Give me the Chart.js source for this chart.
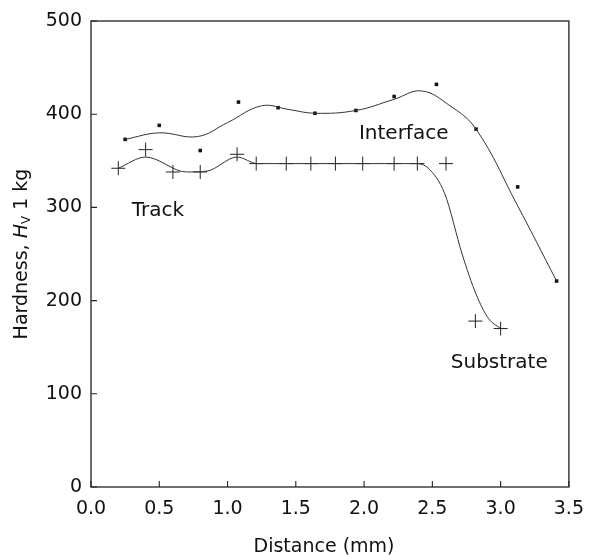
<!DOCTYPE html>
<html>
<head>
<meta charset="utf-8">
<script src="https://cdn.jsdelivr.net/npm/chart.js@4.4.1/dist/chart.umd.min.js"></script>
<style>
  html, body { margin: 0; padding: 0; background: #fff; }
  #wrap { width: 595px; height: 555px; }
</style>
</head>
<body>
<div id="wrap"><canvas id="c" width="595" height="555"></canvas></div>
<script>
// Measured points
const interfaceX = [0.25, 0.50, 0.80, 1.08, 1.37, 1.64, 1.94, 2.22, 2.53, 2.82, 3.125, 3.41];
const interfaceY = [373, 388, 361, 413, 407, 401, 404, 419, 432, 384, 322, 221];
const trackX = [0.20, 0.40, 0.60, 0.80, 1.07, 1.21, 1.43, 1.61, 1.79, 1.99, 2.22, 2.39, 2.60, 2.815, 3.00];
const trackY = [342, 362, 338, 338, 357, 347, 347, 347, 347, 347, 347, 347, 347, 178, 170];
// Fitted curves
const interfaceCurveX = [0.25, 0.50, 0.78, 1.00, 1.25, 1.45, 1.64, 1.94, 2.22, 2.42, 2.62, 2.82, 3.12, 3.41];
const interfaceCurveY = [373, 380, 376, 391, 409, 405, 401, 404, 416, 425, 410, 384, 303, 221];
const trackCurveX = [0.20, 0.40, 0.70, 0.85, 1.07, 1.22, 1.80, 2.38, 2.47, 2.59, 2.72, 2.82, 2.91, 3.00];
const trackCurveY = [342, 354, 338, 339, 354, 347, 347, 347, 342, 315, 249, 207, 181, 170];
// Axes
const xTicks = [0.0, 0.5, 1.0, 1.5, 2.0, 2.5, 3.0, 3.5];
const yTicks = [0, 100, 200, 300, 400, 500];

const FONT = '"DejaVu Sans", sans-serif';
const INK = '#111';
const toXY = (xs, ys) => xs.map((x, i) => ({x, y: ys[i]}));

const decor = {
  id: 'decor',
  afterDraw(chart) {
    const {ctx, chartArea: a, scales: {x, y}} = chart;
    ctx.save();
    ctx.strokeStyle = '#222';
    ctx.lineWidth = 1.3;
    ctx.strokeRect(a.left, a.top, a.right - a.left, a.bottom - a.top);
    ctx.lineWidth = 1.1;
    ctx.beginPath();
    yTicks.forEach(v => { const py = y.getPixelForValue(v); ctx.moveTo(a.left, py); ctx.lineTo(a.left + 6, py); });
    xTicks.forEach(v => { const px = x.getPixelForValue(v); ctx.moveTo(px, a.bottom); ctx.lineTo(px, a.bottom - 6); });
    ctx.stroke();

    ctx.fillStyle = INK;
    ctx.textAlign = 'center';
    ctx.textBaseline = 'middle';
    ctx.font = '20px ' + FONT;
    ctx.fillText('Track', x.getPixelForValue(0.49), y.getPixelForValue(296));
    ctx.fillText('Interface', x.getPixelForValue(2.29), y.getPixelForValue(379));
    ctx.fillText('Substrate', x.getPixelForValue(2.99), y.getPixelForValue(133));

    // x-axis title
    ctx.font = '19px ' + FONT;
    ctx.fillText('Distance (mm)', 324, 547);

    // y-axis title with italic H and subscript V
    ctx.translate(22, (a.top + a.bottom) / 2);
    ctx.rotate(-Math.PI / 2);
    const parts = [
      {t: 'Hardness, ', f: '19px ' + FONT, dy: 0},
      {t: 'H', f: 'italic 19px ' + FONT, dy: 0},
      {t: 'V', f: '12px ' + FONT, dy: 5},
      {t: ' 1 kg', f: '19px ' + FONT, dy: 0}
    ];
    let total = 0;
    parts.forEach(p => { ctx.font = p.f; p.w = ctx.measureText(p.t).width; total += p.w; });
    let cx = -total / 2;
    ctx.textAlign = 'left';
    parts.forEach(p => { ctx.font = p.f; ctx.fillText(p.t, cx, p.dy); cx += p.w; });
    ctx.restore();
  }
};

new Chart(document.getElementById('c'), {
  type: 'line',
  data: {
    datasets: [
      { label: 'Interface curve', data: toXY(interfaceCurveX, interfaceCurveY), borderColor: '#333', borderWidth: 1,
        pointRadius: 0, tension: 0.4, fill: false },
      { label: 'Track curve', data: toXY(trackCurveX, trackCurveY), borderColor: '#333', borderWidth: 1,
        pointRadius: 0, cubicInterpolationMode: 'monotone', fill: false },
      { label: 'Interface', data: toXY(interfaceX, interfaceY), showLine: false, pointStyle: 'rect',
        pointRadius: 2.5, backgroundColor: '#111', borderColor: '#111', borderWidth: 0 },
      { label: 'Track', data: toXY(trackX, trackY), showLine: false, pointStyle: 'cross',
        pointRadius: 7, borderColor: '#222', borderWidth: 1 }
    ]
  },
  options: {
    responsive: false,
    animation: false,
    devicePixelRatio: 1,
    layout: { padding: { left: 0, top: 21, right: 17, bottom: 0 } },
    plugins: { legend: { display: false }, tooltip: { enabled: false } },
    scales: {
      x: {
        type: 'linear', min: 0, max: 3.5,
        afterBuildTicks: s => { s.ticks = xTicks.map(v => ({value: v})); },
        afterFit: s => { s.height = 68; },
        grid: { display: false, drawTicks: false },
        border: { display: false },
        ticks: { color: INK, font: { family: FONT, size: 19 }, padding: 11,
                 callback: v => v.toFixed(1), maxRotation: 0, autoSkip: false }
      },
      y: {
        type: 'linear', min: 0, max: 500,
        afterBuildTicks: s => { s.ticks = yTicks.map(v => ({value: v})); },
        afterFit: s => { s.width = 91; },
        grid: { display: false, drawTicks: false },
        border: { display: false },
        ticks: { color: INK, font: { family: FONT, size: 19 }, padding: 9, autoSkip: false }
      }
    }
  },
  plugins: [decor]
});
</script>
</body>
</html>
